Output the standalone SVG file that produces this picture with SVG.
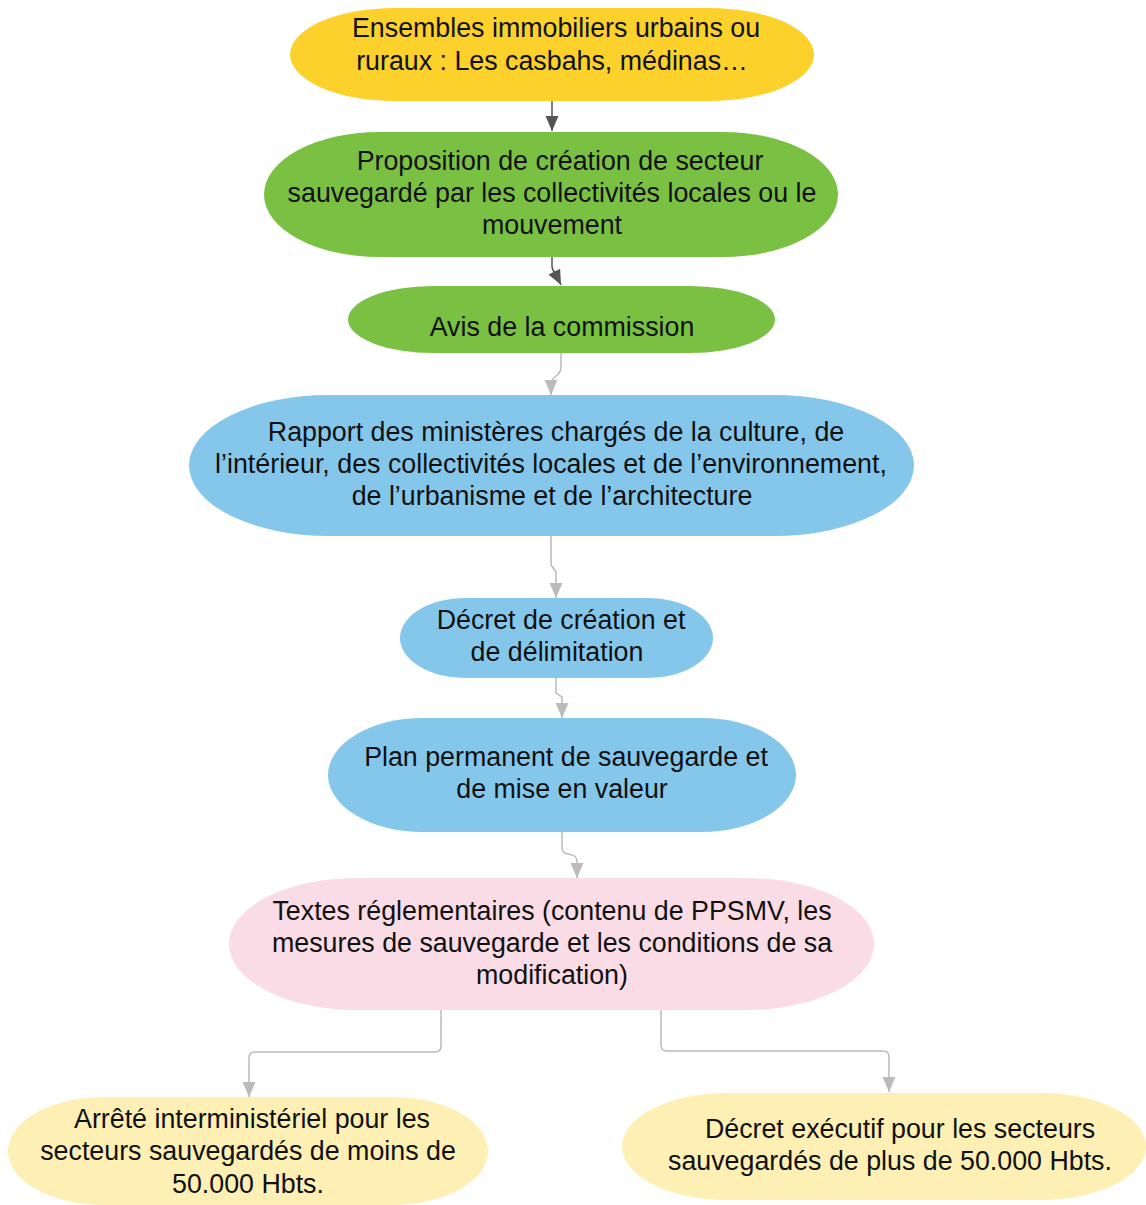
<svg xmlns="http://www.w3.org/2000/svg" width="1146" height="1205" viewBox="0 0 1146 1205">
<defs>
<style>
text{font-family:"Liberation Sans",Arial,sans-serif;font-size:26.8px;fill:#111;text-anchor:middle}
.c{fill:none;stroke-width:1.5}
.dk{stroke:#555}
.lt{stroke:#bbb}
</style>
<marker id="ad" viewBox="0 -7 16 14" refX="15" refY="0" markerWidth="16" markerHeight="14" markerUnits="userSpaceOnUse" orient="auto"><path d="M0,-6.5 L15,0 L0,6.5 z" fill="#555"/></marker>
<marker id="al" viewBox="0 -7 16 14" refX="15" refY="0" markerWidth="16" markerHeight="14" markerUnits="userSpaceOnUse" orient="auto"><path d="M0,-6.5 L15,0 L0,6.5 z" fill="#bbb"/></marker>
</defs>
<rect width="1146" height="1205" fill="#fff"/>
<g id="connectors">
<path class="c dk" d="M552,101 L552,131" marker-end="url(#ad)"/>
<path class="c dk" d="M552,257 L552,266 Q552,270 555,273 L561,285" marker-end="url(#ad)"/>
<path class="c lt" d="M561,353 L561,366 C561,378 551,374 551,386 L551,395" marker-end="url(#al)"/>
<path class="c lt" d="M551,536 L551,565 L556,572 L556,598" marker-end="url(#al)"/>
<path class="c lt" d="M556,678 L556,693 L562,697 L562,718" marker-end="url(#al)"/>
<path class="c lt" d="M562,832 L562,848 C562,858 577,850 577,862 L577,878" marker-end="url(#al)"/>
<path class="c lt" d="M441,1010 L441,1046 Q441,1052 435,1052 L255,1052 Q249,1052 249,1058 L249,1097" marker-end="url(#al)"/>
<path class="c lt" d="M661,1010 L661,1045 Q661,1051 667,1051 L883,1051 Q889,1051 889,1057 L889,1092" marker-end="url(#al)"/>
</g>
<g id="n1">
<rect x="290" y="8" width="524" height="93" rx="105" ry="46.5" fill="#FCD12C"/>
<text x="556" y="37">Ensembles immobiliers urbains ou</text>
<text x="552" y="70">ruraux : Les casbahs, médinas…</text>
</g>
<g id="n2">
<rect x="264" y="132" width="574" height="125" rx="115" ry="62.5" fill="#7AC143"/>
<text x="560" y="170">Proposition de création de secteur</text>
<text x="552" y="202">sauvegardé par les collectivités locales ou le</text>
<text x="552" y="234">mouvement</text>
</g>
<g id="n3">
<rect x="348" y="286" width="427" height="67" rx="85" ry="33.5" fill="#7AC143"/>
<text x="562" y="336">Avis de la commission</text>
</g>
<g id="n4">
<rect x="189" y="395" width="725" height="141" rx="140" ry="70.5" fill="#85C7EB"/>
<text x="556" y="441">Rapport des ministères chargés de la culture, de</text>
<text x="551" y="473">l’intérieur, des collectivités locales et de l’environnement,</text>
<text x="552" y="505">de l’urbanisme et de l’architecture</text>
</g>
<g id="n5">
<rect x="400" y="598" width="313" height="80" rx="65" ry="40" fill="#85C7EB"/>
<text x="561" y="629">Décret de création et</text>
<text x="557" y="661">de délimitation</text>
</g>
<g id="n6">
<rect x="328" y="718" width="468" height="114" rx="95" ry="57" fill="#85C7EB"/>
<text x="566" y="766">Plan permanent de sauvegarde et</text>
<text x="562" y="798">de mise en valeur</text>
</g>
<g id="n7">
<rect x="229" y="878" width="645" height="132" rx="128" ry="66" fill="#F9DCE6"/>
<text x="552" y="920">Textes réglementaires (contenu de PPSMV, les</text>
<text x="552" y="952">mesures de sauvegarde et les conditions de sa</text>
<text x="552" y="984">modification)</text>
</g>
<g id="n8">
<rect x="8" y="1097" width="480" height="108" rx="96" ry="54" fill="#FEF0B4"/>
<text x="252" y="1128">Arrêté interministériel pour les</text>
<text x="248" y="1160">secteurs sauvegardés de moins de</text>
<text x="248" y="1193">50.000 Hbts.</text>
</g>
<g id="n9">
<rect x="622" y="1093" width="524" height="107" rx="105" ry="53.5" fill="#FEF0B4"/>
<text x="900" y="1138">Décret exécutif pour les secteurs</text>
<text x="890" y="1170">sauvegardés de plus de 50.000 Hbts.</text>
</g>
</svg>
